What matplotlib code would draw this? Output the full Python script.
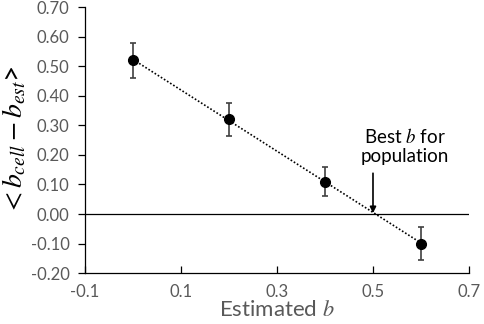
import numpy as np
import matplotlib
matplotlib.use('Agg')
import matplotlib.pyplot as plt

# data
b_est = [0.0, 0.2, 0.4, 0.6]
mean_diff = [0.52, 0.32, 0.11, -0.10]
err = [0.06, 0.055, 0.05, 0.055]

x_ticks = [-0.1, 0.1, 0.3, 0.5, 0.7]
y_ticks = [-0.2, -0.1, 0.0, 0.1, 0.2, 0.3, 0.4, 0.5, 0.6, 0.7]

plt.rcParams['font.family'] = ['Lato', 'DejaVu Sans']
plt.rcParams['mathtext.fontset'] = 'stix'

grey = '#595959'

fig = plt.figure(figsize=(4.84, 3.24), dpi=100)
ax = fig.add_axes([0.1756, 0.157, 0.7934, 0.821])

# linear trendline
p = np.polyfit(b_est, mean_diff, 1)
xl = np.array([min(b_est), max(b_est)])
ax.plot(xl, np.polyval(p, xl), color='black', lw=1.2, ls=(0, (1, 1.2)), zorder=2)

ax.errorbar(b_est, mean_diff, yerr=err, fmt='o', color='black', ms=7,
            ecolor='#404040', elinewidth=1.2, capsize=2, capthick=1.2, zorder=3)

ax.axhline(0, color='black', lw=0.9, zorder=1)

ax.set_xlim(-0.1, 0.7)
ax.set_ylim(-0.2, 0.7)
ax.set_xticks(x_ticks)
ax.set_xticklabels(['%.1f' % v for v in x_ticks])
ax.set_yticks(y_ticks)
ax.set_yticklabels(['%.2f' % v for v in y_ticks])

for s in ['top', 'right']:
    ax.spines[s].set_visible(False)
for s in ['left', 'bottom']:
    ax.spines[s].set_color('black')
    ax.spines[s].set_linewidth(0.9)

ax.tick_params(axis='x', direction='in', length=5, width=0.9, colors='black',
               labelcolor=grey, labelsize=12, pad=8)
ax.tick_params(axis='y', direction='out', length=5, width=0.9, colors='black',
               labelcolor=grey, labelsize=12, pad=6)

ax.set_xlabel(r'Estimated $b$', color=grey, fontsize=16, labelpad=0)
ax.set_ylabel(r'$<b_{cell}-b_{est}$>', color='black', fontsize=20, labelpad=2)

ax.annotate('', xy=(0.5, 0.003), xytext=(0.5, 0.138),
            arrowprops=dict(arrowstyle='-|>', color='black', lw=1.2,
                            shrinkA=0, shrinkB=0, mutation_scale=9))
ax.text(0.567, 0.165, 'Best $b$ for\npopulation', ha='center', va='bottom',
        fontsize=13.5, color='black', linespacing=1.15)

fig.savefig('out.png', dpi=100)
